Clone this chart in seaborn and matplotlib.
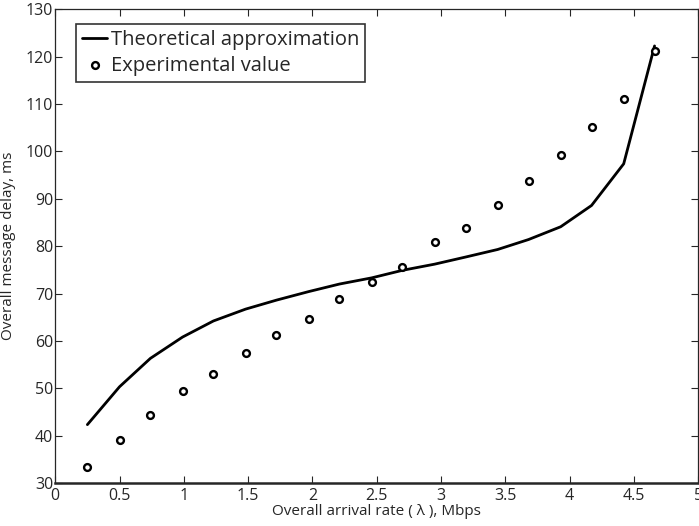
import numpy as np
import pandas as pd
import matplotlib
matplotlib.use('Agg')
import matplotlib.pyplot as plt
import seaborn as sns

# --- Data ---
rate = [0.25, 0.50, 0.74, 0.99, 1.23, 1.48, 1.72, 1.97, 2.21, 2.46,
        2.70, 2.95, 3.19, 3.44, 3.68, 3.93, 4.17, 4.42, 4.66]
theory = [42.3, 50.3, 56.3, 60.8, 64.2, 66.7, 68.6, 70.4, 72.0, 73.3,
          74.9, 76.2, 77.7, 79.3, 81.4, 84.1, 88.6, 97.4, 122.3]
experiment = [33.4, 39.1, 44.4, 49.4, 52.9, 57.5, 61.2, 64.7, 68.9, 72.4,
              75.6, 80.8, 83.9, 88.7, 93.8, 99.3, 105.2, 111.1, 121.2]

df = pd.DataFrame({"rate": rate, "theory": theory, "experiment": experiment})

sns.set_style("ticks")
plt.rcParams['font.family'] = ['Open Sans', 'DejaVu Sans']
plt.rcParams['xtick.direction'] = 'in'
plt.rcParams['ytick.direction'] = 'in'

fig = plt.figure(figsize=(6.99, 5.26), dpi=100)
ax = fig.add_axes([0.079, 0.082, 0.92, 0.900])

sns.lineplot(data=df, x="rate", y="theory", ax=ax, color="black", linewidth=2,
             label="Theoretical approximation")
sns.scatterplot(data=df, x="rate", y="experiment", ax=ax, marker="o", s=24,
                facecolor="white", edgecolor="black", linewidth=1.7,
                label="Experimental value", zorder=3)

ax.set_xlim(0, 5)
ax.set_ylim(30, 130)
ax.set_xticks(np.arange(0, 5.01, 0.5))
ax.set_xticklabels(["0", "0.5", "1", "1.5", "2", "2.5", "3", "3.5", "4", "4.5", "5"])
ax.set_yticks(np.arange(30, 131, 10))
ax.tick_params(top=True, right=True, labelsize=11.5, length=5, width=0.8)
ax.tick_params(axis='x', pad=4)
ax.tick_params(axis='y', pad=1.5)
for sp in ax.spines.values():
    sp.set_linewidth(0.9)
ax.spines['bottom'].set_linewidth(1.8)

ax.set_xlabel("Overall arrival rate ( \u03bb ), Mbps", fontsize=11, labelpad=0)
ax.set_ylabel("Overall message delay, ms", fontsize=11, labelpad=7)

leg = ax.legend(loc="upper left", bbox_to_anchor=(0.033, 0.970), fontsize=14.5,
                frameon=True, fancybox=False, edgecolor="black", handlelength=1.2,
                handletextpad=0.2, borderpad=0.3, labelspacing=0.3,
                borderaxespad=0)
leg.get_frame().set_linewidth(1.2)

fig.savefig("out.png", dpi=100)
